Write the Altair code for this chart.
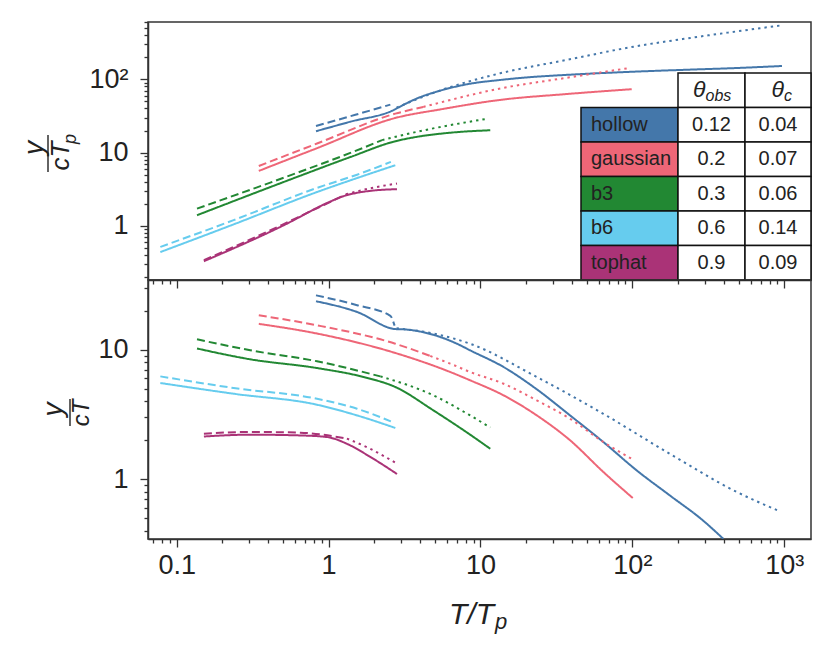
import altair as alt
import pandas as pd

# ---------------- data ----------------
models = ["hollow", "gaussian", "b3", "b6", "tophat"]
colors = ["#4477AA", "#EE6677", "#228833", "#66CCEE", "#AA3377"]
theta_obs = ["0.12", "0.2", "0.3", "0.6", "0.9"]
theta_c = ["0.04", "0.07", "0.06", "0.14", "0.09"]
header_main = ["θ", "θ"]
header_sub = ["obs", "c"]

x_major = [0.1, 1, 10, 100, 1000]
x_major_labels = ["0.1", "1", "10", "10²", "10³"]
top_y_major = [1, 10, 100]
top_y_major_labels = ["1", "10", "10²"]
bot_y_major = [1, 10]
bot_y_major_labels = ["1", "10"]

# top panel: y / (c T_p)
top_hollow_solid_x = [0.826, 1.39, 2.75, 2.96, 4.0, 5.17, 8.0, 13.5, 20, 37, 102, 279, 463, 966]
top_hollow_solid_y = [19.6, 26.4, 39.1, 42.5, 57, 68, 85, 98, 106, 115, 127, 137, 142, 152]
top_hollow_dashed_x = [0.826, 1.5, 2.55]
top_hollow_dashed_y = [23.1, 32.8, 45.2]
top_hollow_dotted_x = [2.8, 5.17, 13.5, 37, 102, 279, 937]
top_hollow_dotted_y = [41, 68, 121, 184, 279, 383, 541]

top_gaussian_solid_x = [0.347, 0.839, 2.75, 5.5, 13.5, 37, 99]
top_gaussian_solid_y = [5.63, 11.5, 29.7, 39, 52.4, 63, 73.3]
top_gaussian_dashed_x = [0.347, 0.839, 2.75, 4.2]
top_gaussian_dashed_y = [6.58, 13.3, 34, 42]
top_gaussian_dotted_x = [4.2, 13.5, 37, 96]
top_gaussian_dotted_y = [42, 75, 105, 143]

top_b3_solid_x = [0.136, 0.62, 1.39, 2.75, 3.8, 6.0, 11.6]
top_b3_solid_y = [1.40, 4.66, 8.7, 14.3, 16.4, 18.5, 20.2]
top_b3_dashed_x = [0.136, 0.62, 1.39, 2.25]
top_b3_dashed_y = [1.72, 5.3, 9.9, 14.8]
top_b3_dotted_x = [2.25, 3.8, 11.2]
top_b3_dotted_y = [14.8, 19.2, 29.1]

top_b6_solid_x = [0.078, 0.237, 0.839, 1.54, 2.75]
top_b6_solid_y = [0.44, 1.05, 2.9, 4.5, 6.73]
top_b6_dashed_x = [0.078, 0.237, 0.839, 1.54, 2.57]
top_b6_dashed_y = [0.517, 1.2, 3.3, 5.0, 7.47]

top_tophat_solid_x = [0.151, 0.506, 1.0, 1.256, 1.5, 2.0, 2.82]
top_tophat_solid_y = [0.33, 1.02, 2.1, 2.55, 2.8, 3.05, 3.17]
top_tophat_dashed_x = [0.151, 0.506, 1.3]
top_tophat_dashed_y = [0.34, 1.06, 2.7]
top_tophat_dotted_x = [1.3, 2.0, 2.82]
top_tophat_dotted_y = [2.7, 3.35, 3.78]

# bottom panel: y / (c T)
bot_hollow_solid_x = [0.826, 1.54, 2.75, 3.2, 4.9, 7.0, 8.55, 14.2, 23.5, 38.9, 64.4, 107, 177, 293, 397]
bot_hollow_solid_y = [23.6, 19.5, 14.4, 14.3, 13.0, 11.1, 9.87, 7.34, 4.94, 3.11, 1.94, 1.17, 0.75, 0.48, 0.348]
bot_hollow_dashed_x = [0.826, 1.54, 2.55, 2.72]
bot_hollow_dashed_y = [26.2, 22.0, 18.2, 15.3]
bot_hollow_dotted_x = [2.8, 4.9, 8.55, 23.5, 64.4, 177, 486, 937]
bot_hollow_dotted_y = [14.6, 13.3, 11.1, 6.15, 3.2, 1.57, 0.80, 0.567]

bot_gaussian_solid_x = [0.347, 0.839, 2.75, 6.32, 8.55, 14.2, 23.5, 38.9, 64.4, 100.6]
bot_gaussian_solid_y = [15.8, 13.3, 9.42, 6.72, 5.8, 4.44, 3.11, 2.0, 1.14, 0.718]
bot_gaussian_dashed_x = [0.347, 0.839, 2.75, 4.67]
bot_gaussian_dashed_y = [18.4, 15.4, 11.1, 8.93]
bot_gaussian_dotted_x = [4.67, 6.32, 8.55, 14.2, 23.5, 38.9, 64.4, 99]
bot_gaussian_dotted_y = [8.93, 7.8, 6.72, 5.46, 4.06, 2.93, 1.94, 1.44]

bot_b3_solid_x = [0.136, 0.305, 0.839, 1.7, 2.75, 4.9, 8.55, 11.6]
bot_b3_solid_y = [10.2, 8.42, 7.21, 6.15, 5.15, 3.4, 2.21, 1.72]
bot_b3_dashed_x = [0.136, 0.305, 0.839, 2.19]
bot_b3_dashed_y = [12.0, 9.88, 8.13, 6.22]
bot_b3_dotted_x = [2.19, 4.9, 8.55, 11.6]
bot_b3_dotted_y = [6.22, 4.44, 3.11, 2.51]

bot_b6_solid_x = [0.078, 0.237, 0.839, 1.54, 2.75]
bot_b6_solid_y = [5.53, 4.57, 3.76, 3.11, 2.49]
bot_b6_dashed_x = [0.078, 0.237, 0.839, 1.54, 2.57]
bot_b6_dashed_y = [6.22, 5.06, 4.18, 3.5, 2.8]

bot_tophat_solid_x = [0.151, 0.305, 0.652, 0.976, 1.32, 1.88, 2.82]
bot_tophat_solid_y = [2.14, 2.21, 2.18, 2.12, 1.88, 1.49, 1.1]
bot_tophat_dashed_x = [0.151, 0.305, 0.652, 1.32]
bot_tophat_dashed_y = [2.25, 2.32, 2.29, 2.06]
bot_tophat_dotted_x = [1.32, 1.88, 2.82]
bot_tophat_dotted_y = [2.06, 1.72, 1.32]

# ---------------- build tables ----------------
g = globals()
def build(prefix):
    rows = []
    for m in models:
        for s in ["solid", "dashed", "dotted"]:
            kx = f"{prefix}_{m}_{s}_x"
            if kx not in g:
                continue
            for i, (xv, yv) in enumerate(zip(g[kx], g[f"{prefix}_{m}_{s}_y"])):
                rows.append({"model": m, "style": s, "series": f"{m}-{s}", "x": xv, "y": yv, "i": i})
    return pd.DataFrame(rows)

df_top = build("top")
df_bot = build("bot")

# ---------------- styling ----------------
FONT = "Liberation Sans"
INK = "#222222"
W = 663
H_TOP = 258
H_BOT = 259
X_DOMAIN = [0.0647, 1500]
TOP_Y_DOMAIN = [0.183, 605]
BOT_Y_DOMAIN = [0.347, 34.4]

def decade_minors(lo, hi):
    vals = []
    for e in range(-3, 4):
        for k in range(1, 10):
            v = round(k * 10.0 ** e, 6)
            if lo <= v <= hi:
                vals.append(v)
    return vals

def label_expr(majors, labels):
    parts = [f"abs(datum.value - {v}) < {v}*1e-6 ? '{l}'" for v, l in zip(majors, labels)]
    return " : ".join(parts) + " : ''"

DECADE = "abs(log(datum.value)/LN10 - round(log(datum.value)/LN10)) < 1e-6"
TICKSIZE = {"condition": {"test": DECADE, "value": 8}, "value": 4}
LABELSIZE = {"condition": {"test": DECADE, "value": 27}, "value": 1}

color_scale = alt.Scale(domain=models, range=colors)
dash_scale = alt.Scale(domain=["solid", "dashed", "dotted"], range=[[1, 0], [8, 4], [2.4, 4]])
x_scale = alt.Scale(type="log", domain=X_DOMAIN, nice=False)


def lines(df, y_domain, x_axis, y_axis):
    return alt.Chart(df).mark_line(strokeWidth=2, strokeCap="butt", clip=True, interpolate="monotone").encode(
        x=alt.X("x:Q", scale=x_scale, axis=x_axis),
        y=alt.Y("y:Q", scale=alt.Scale(type="log", domain=y_domain, nice=False), axis=y_axis),
        color=alt.Color("model:N", scale=color_scale, legend=None),
        strokeDash=alt.StrokeDash("style:N", scale=dash_scale, legend=None),
        detail="series:N",
        order=alt.Order("i:Q"),
    )

x_axis_top = alt.Axis(values=decade_minors(*X_DOMAIN), labels=False, title=None, tickSize=TICKSIZE, grid=False)
x_axis_bot = alt.Axis(values=decade_minors(*X_DOMAIN), labelExpr=label_expr(x_major, x_major_labels),
                      title=None, tickSize=TICKSIZE, grid=False, labelPadding=5, labelFlush=False,
                      labelOverlap=False, labelFontSize=LABELSIZE)
y_axis_top = alt.Axis(values=decade_minors(*TOP_Y_DOMAIN), labelExpr=label_expr(top_y_major, top_y_major_labels),
                      title=None, tickSize=TICKSIZE, grid=False, labelPadding=12, labelOverlap=False,
                      labelFlush=False, labelFontSize=LABELSIZE)
y_axis_bot = alt.Axis(values=decade_minors(*BOT_Y_DOMAIN), labelExpr=label_expr(bot_y_major, bot_y_major_labels),
                      title=None, tickSize=TICKSIZE, grid=False, labelPadding=12, labelOverlap=False,
                      labelFlush=False, labelFontSize=LABELSIZE)

one = pd.DataFrame({"k": [0]})

def txt(text, x, y, size, angle=0, align="center", baseline="middle", italic=True):
    return alt.Chart(one).mark_text(text=text, font=FONT, fontSize=size, fontStyle="italic" if italic else "normal",
                                    angle=angle, align=align, baseline=baseline, color=INK).encode(
        x=alt.value(x), y=alt.value(y))

def vbar(x, y1, y2):
    return alt.Chart(one).mark_rule(color=INK, strokeWidth=1.4).encode(x=alt.value(x), y=alt.value(y1), y2=alt.value(y2))

# ---------------- table (inside top panel) ----------------
table_rows = ["header"] + models
row_scale = alt.Scale(type="band", domain=table_rows, range=[51, H_TOP], paddingInner=0, paddingOuter=0)
COL = [433, 530, 597, W]  # column edges in the top panel
ROWY = alt.Y("row:N", scale=row_scale, axis=None)

name_df = pd.DataFrame({"row": models, "model": models, "label": models})
num_df = pd.DataFrame({"row": models, "obs": theta_obs, "c": theta_c})
hdr_df = pd.DataFrame({"row": ["header"], "main": [header_main[0]], "obs": [header_sub[0]], "c": [header_sub[1]]})
cell_df = pd.DataFrame({"row": table_rows})

cell_style = dict(stroke="#111111", strokeWidth=1.5)
name_rect = alt.Chart(name_df).mark_rect(**cell_style).encode(
    x=alt.value(COL[0]), x2=alt.value(COL[1]), y=ROWY,
    color=alt.Color("model:N", scale=color_scale, legend=None))
obs_rect = alt.Chart(cell_df).mark_rect(fill="white", **cell_style).encode(x=alt.value(COL[1]), x2=alt.value(COL[2]), y=ROWY)
c_rect = alt.Chart(cell_df).mark_rect(fill="white", **cell_style).encode(x=alt.value(COL[2]), x2=alt.value(COL[3]), y=ROWY)

tstyle = dict(font=FONT, fontSize=20, color=INK, baseline="middle")
name_txt = alt.Chart(name_df).mark_text(align="left", **tstyle).encode(x=alt.value(COL[0] + 10), y=ROWY, text="label:N")
obs_txt = alt.Chart(num_df).mark_text(align="center", **tstyle).encode(x=alt.value((COL[1] + COL[2]) / 2), y=ROWY, text="obs:N")
c_txt = alt.Chart(num_df).mark_text(align="center", **tstyle).encode(x=alt.value((COL[2] + COL[3]) / 2), y=ROWY, text="c:N")

hstyle = dict(font=FONT, color=INK, baseline="middle", fontStyle="italic")
obs_anchor = (COL[1] + COL[2]) / 2 - 6
c_anchor = (COL[2] + COL[3]) / 2 + 6
hdr_layers = [
    alt.Chart(hdr_df).mark_text(align="right", fontSize=23, **hstyle).encode(x=alt.value(obs_anchor), y=ROWY, text="main:N"),
    alt.Chart(hdr_df).mark_text(align="left", fontSize=16, dy=6, **hstyle).encode(x=alt.value(obs_anchor), y=ROWY, text="obs:N"),
    alt.Chart(hdr_df).mark_text(align="right", fontSize=23, **hstyle).encode(x=alt.value(c_anchor), y=ROWY, text="main:N"),
    alt.Chart(hdr_df).mark_text(align="left", fontSize=16, dy=6, **hstyle).encode(x=alt.value(c_anchor), y=ROWY, text="c:N"),
]

top = alt.layer(
    lines(df_top, TOP_Y_DOMAIN, x_axis_top, y_axis_top),
    name_rect, obs_rect, c_rect, name_txt, obs_txt, c_txt, *hdr_layers,
    txt("y", -113, 126, 28, angle=270),
    vbar(-100, 113, 150),
    txt("cT", -87, 134, 26, angle=270),
    txt("p", -77, 117, 18, angle=270),
).resolve_scale(y="independent").properties(width=W, height=H_TOP)

bottom = alt.layer(
    lines(df_bot, BOT_Y_DOMAIN, x_axis_bot, y_axis_bot),
    txt("y", -94, 129.5, 28, angle=270),
    vbar(-78, 119, 146),
    txt("cT", -66, 133, 24, angle=270),
    txt("T/T", 346, 344, 30, align="right", baseline="alphabetic"),
    txt("p", 347, 349, 22, align="left", baseline="alphabetic"),
).properties(width=W, height=H_BOT)

chart = alt.vconcat(top, bottom, spacing=0, bounds="flush").properties(
    padding={"left": 12, "top": 12, "right": 5, "bottom": 5}
).configure_axis(
    domainColor="#333333", domainWidth=1.5, tickColor="#333333", tickWidth=1.3,
    labelFont=FONT, labelFontSize=27, labelColor=INK, grid=False,
).configure_view(stroke="#333333", strokeWidth=1.5)

chart.save("out.html", embed_options={"renderer": "svg", "actions": False})
